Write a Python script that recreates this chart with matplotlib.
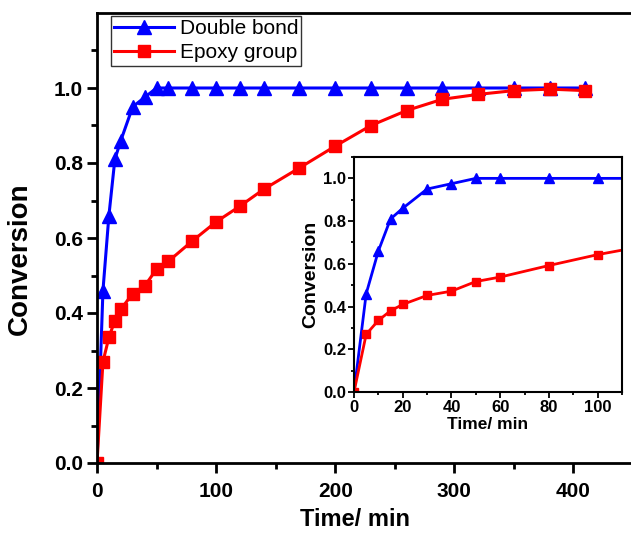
import numpy as np
import matplotlib.pyplot as plt
from matplotlib.ticker import MultipleLocator

plt.rcParams['font.family'] = ['Liberation Sans', 'DejaVu Sans']

# Sampling times (min)
t = [0, 5, 10, 15, 20, 30, 40, 50, 60, 80, 100, 120, 140, 170,
     200, 230, 260, 290, 320, 350, 380, 410]

# Conversion of C=C double bonds
double_bond = [0.0, 0.46, 0.66, 0.81, 0.86, 0.95, 0.975, 1.0, 1.0, 1.0, 1.0,
               1.0, 1.0, 1.0, 1.0, 1.0, 1.0, 1.0, 1.0, 1.0, 1.0, 1.0]

# Conversion of epoxy groups
epoxy = [0.0, 0.27, 0.335, 0.38, 0.41, 0.452, 0.472, 0.517, 0.538, 0.592,
         0.643, 0.685, 0.73, 0.787, 0.845, 0.90, 0.94, 0.97, 0.983, 0.993,
         0.997, 0.993]

blue = '#0000ff'
red = '#ff0000'

fig = plt.figure(figsize=(6.31, 5.33), dpi=100)
ax = fig.add_axes([97/631, 1 - 463/533, 536/631, 450/533])

ax.plot(t, double_bond, color=blue, lw=2.2, marker='^', ms=10.5, label='Double bond')
ax.plot(t, epoxy, color=red, lw=2.2, marker='s', ms=9, label='Epoxy group')

ax.set_xlim(0, 450)
ax.set_ylim(0, 1.2)
ax.xaxis.set_major_locator(MultipleLocator(100))
ax.xaxis.set_minor_locator(MultipleLocator(50))
ax.set_yticks([0, 0.2, 0.4, 0.6, 0.8, 1.0])
ax.set_yticks(np.arange(0.1, 1.2, 0.2), minor=True)
ax.tick_params(which='major', direction='out', length=7, width=2, labelsize=15)
ax.tick_params(axis='x', which='major', pad=7)
ax.tick_params(axis='y', which='major', pad=3)
ax.tick_params(which='minor', direction='out', length=4.5, width=2)
for s in ax.spines.values():
    s.set_linewidth(2)
for lab in ax.get_xticklabels() + ax.get_yticklabels():
    lab.set_fontweight('bold')

ax.set_xlabel('Time/ min', fontsize=17, fontweight='bold')
ax.set_ylabel('Conversion', fontsize=20, fontweight='bold')
ax.xaxis.set_label_coords(0.481, -0.1)
ax.yaxis.set_label_coords(-0.12, 0.453)

leg = ax.legend(loc='upper left', bbox_to_anchor=(0.026, 0.993), fontsize=15,
                frameon=True, fancybox=False, edgecolor='black',
                borderpad=0.15, handlelength=2.9, handletextpad=0.25,
                labelspacing=0.25, borderaxespad=0)
leg.get_frame().set_linewidth(1)

# inset: first 110 min
ins = fig.add_axes([354/631, 1 - 392/533, 268/631, 235/533])
ins.plot(t, double_bond, color=blue, lw=2, marker='^', ms=6.5)
ins.plot(t, epoxy, color=red, lw=2, marker='s', ms=6)
ins.set_xlim(0, 110)
ins.set_ylim(0, 1.1)
ins.xaxis.set_major_locator(MultipleLocator(20))
ins.xaxis.set_minor_locator(MultipleLocator(10))
ins.yaxis.set_major_locator(MultipleLocator(0.2))
ins.yaxis.set_minor_locator(MultipleLocator(0.1))
ins.tick_params(which='major', direction='out', length=4, width=1.3, labelsize=12, pad=1.5)
ins.tick_params(which='minor', direction='out', length=2.5, width=1.3)
for s in ins.spines.values():
    s.set_linewidth(1.5)
for lab in ins.get_xticklabels() + ins.get_yticklabels():
    lab.set_fontweight('bold')
ins.set_xlabel('Time/ min', fontsize=12.5, fontweight='bold', labelpad=2)
ins.set_ylabel('Conversion', fontsize=14, fontweight='bold', labelpad=3)

fig.savefig('out.png', dpi=100)
